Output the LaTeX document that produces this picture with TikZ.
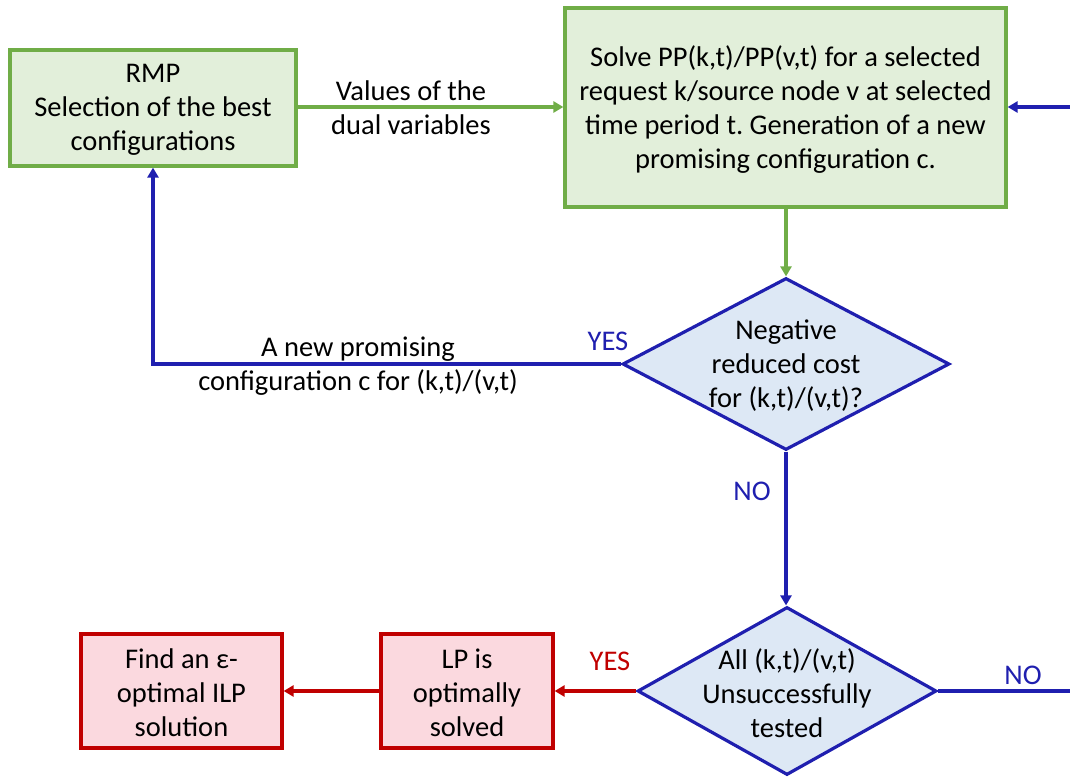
\documentclass[tikz,border=0pt]{standalone}
\usepackage{fontspec}
\setmainfont{Carlito}
\frenchspacing
\usetikzlibrary{arrows.meta,shapes.geometric,shadows}
\definecolor{gline}{HTML}{70AD47}
\definecolor{gfill}{HTML}{E2EFDA}
\definecolor{bline}{HTML}{1F1FAF}
\definecolor{bfill}{HTML}{DDE8F5}
\definecolor{rline}{HTML}{C00000}
\definecolor{rfill}{HTML}{FBD9DF}
\tikzset{
  txt/.style={font=\fontsize{28.5}{34}\selectfont, align=center, inner sep=0pt},
  shd/.style={drop shadow={opacity=0.25, shadow xshift=1.5pt, shadow yshift=-2pt}},
  greenbox/.style={draw=gline, fill=gfill, line width=3.2pt, shd},
  redbox/.style={draw=rline, fill=rfill, line width=3.2pt, shd},
  decision/.style={diamond, draw=bline, fill=bfill, line width=3.2pt, inner sep=0pt},
  tip/.style={-{Triangle[length=10pt,width=11pt]}},
  garrow/.style={draw=gline, line width=3.2pt, tip},
  barrow/.style={draw=bline, line width=3.2pt, tip},
  blueline/.style={draw=bline, line width=3.2pt},
  rarrow/.style={draw=rline, line width=3.2pt, tip},
  lbl/.style={txt},
  blbl/.style={txt, text=bline},
  rlbl/.style={txt, text=rline},
}
\begin{document}
\begin{tikzpicture}[x=1pt,y=-1pt]
\useasboundingbox (0,0) rectangle (1070,776);

% process boxes (frame and text as separate nodes)
\node[greenbox, minimum width=286pt, minimum height=116pt] (rmp) at (153,108) {};
\node[txt] (rmpt) at (153,110) {RMP\\Selection of the best\\configurations};
\node[greenbox, minimum width=441pt, minimum height=199pt] (pp) at (785.5,107.5) {};
\node[txt] (ppt) at (785.5,109.5)
  {Solve PP(k,t)/PP(v,t) for a selected\\request k/source node v at selected\\time period t. Generation of a new\\promising configuration c.};

% decisions
\node[decision, minimum width=327pt, minimum height=172pt] (d1) at (786,364) {};
\node[txt] (d1t) at (786,366) {Negative\\reduced cost\\for (k,t)/(v,t)?};
\node[decision, minimum width=299pt, minimum height=168pt] (d2) at (787,691) {};
\node[txt] (d2t) at (787,693) {All (k,t)/(v,t)\\Unsuccessfully\\tested};

% final boxes
\node[redbox, minimum width=172pt, minimum height=114pt] (lp) at (467,691) {};
\node[txt] (lpt) at (467,693) {LP is\\optimally\\solved};
\node[redbox, minimum width=201pt, minimum height=114pt] (ilp) at (181.5,691) {};
\node[txt] (ilpt) at (181.5,693) {Find an ε-\\optimal ILP\\solution};

% loose ends at the right margin
\coordinate (in1) at (1072,107);
\coordinate (out2) at (1072,691);

% connectors
\draw[garrow] (rmp.east |- 0,107) -- (pp.west |- 0,107);
\node[lbl] (duallbl) at (411,108) {Values of the\\dual variables};

\draw[garrow] (pp.south -| d1.north) -- (d1.north);

\draw[barrow] (d1.west) -| (rmp.south);
\node[lbl] (newlbl) at (358,366) {A new promising\\configuration c for (k,t)/(v,t)};
\node[blbl] (yes1) at (608,341) {YES};

\draw[barrow] (d1.south) -- (d1.south |- d2.north);
\node[blbl] (no1) at (752,491) {NO};

\draw[rarrow] (d2.west) -- (lp.east);
\node[rlbl] (yes2) at (610,661) {YES};
\draw[rarrow] (lp.west) -- (ilp.east);

\draw[blueline] (d2.east) -- (out2);
\node[blbl] (no2) at (1023,675) {NO};
\draw[barrow] (in1) -- (pp.east |- in1);
\end{tikzpicture}
\end{document}
